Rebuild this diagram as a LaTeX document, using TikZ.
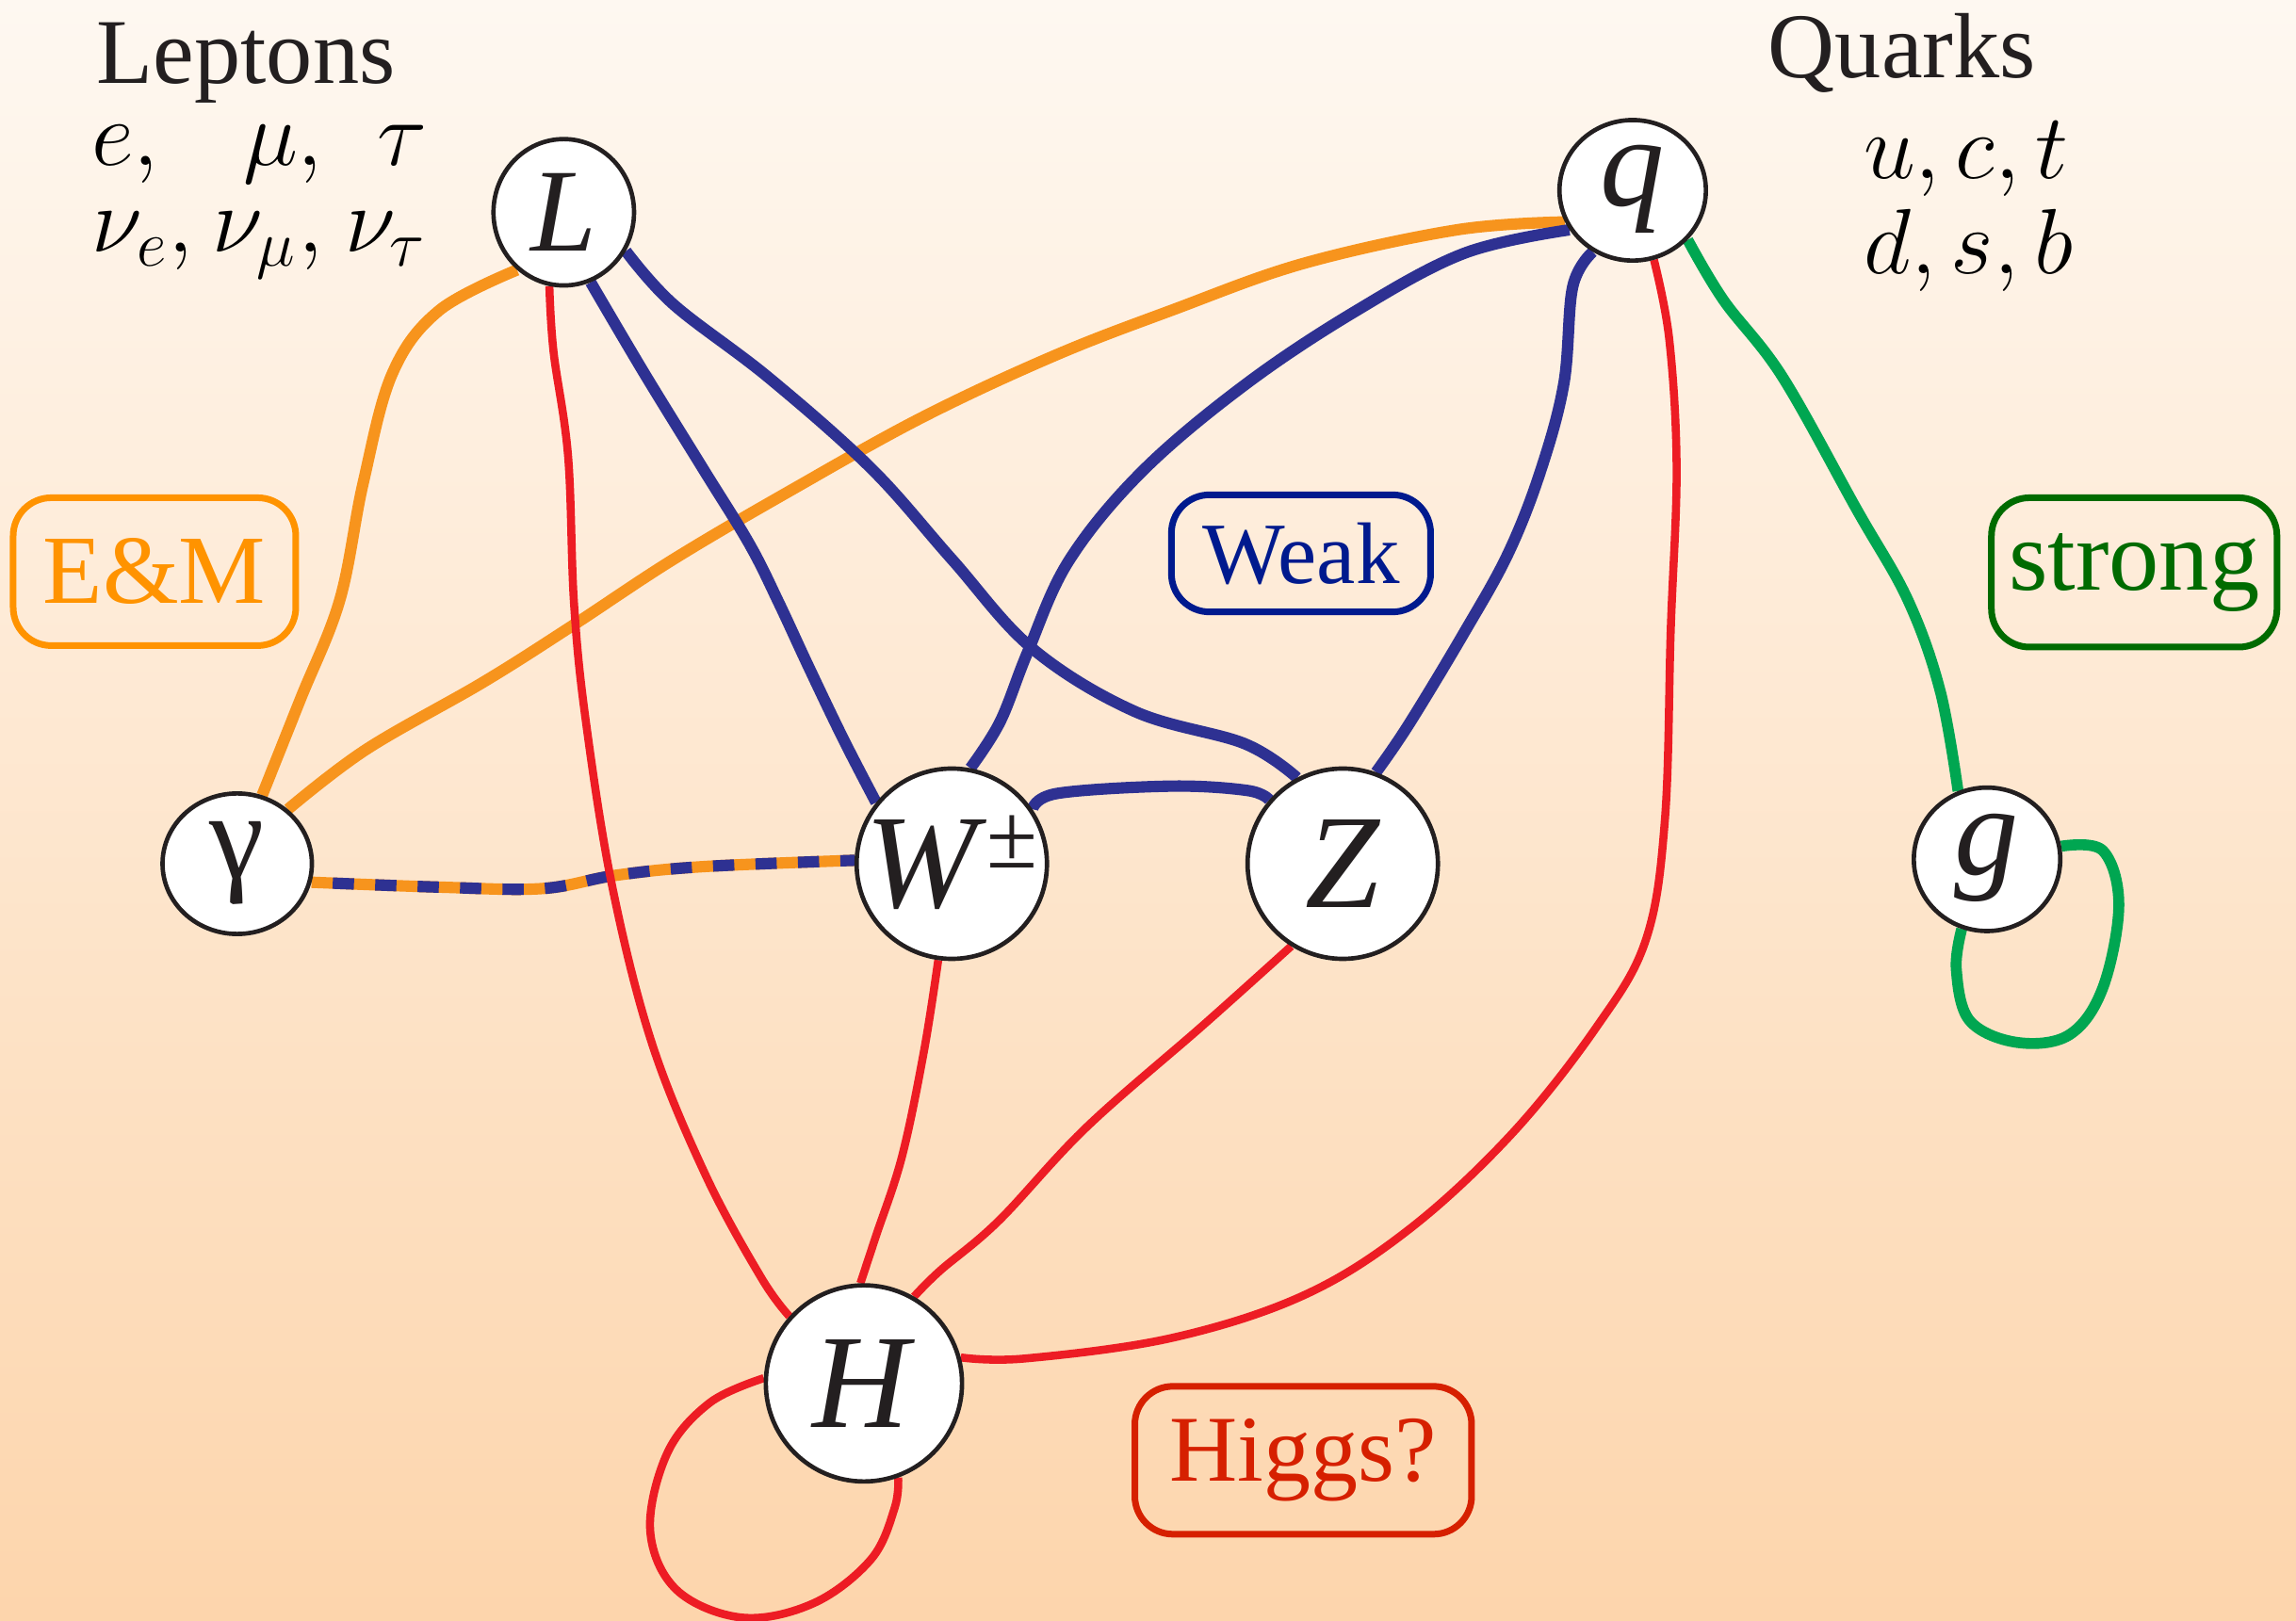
\RequirePackage{fix-cm}
\documentclass[tikz,border=0pt]{standalone}
\usepackage{fontspec}
\setmainfont{Liberation Serif}
\usetikzlibrary{shapes.geometric}
\pgfdeclarelayer{bgl}
\pgfdeclarelayer{edges}
\pgfsetlayers{bgl,edges,main}
\definecolor{bgtop}{HTML}{FEF8F1}
\definecolor{bgbot}{HTML}{FDD5AC}
\definecolor{emc}{HTML}{F7941D}
\definecolor{wkc}{HTML}{2E3192}
\definecolor{hc}{HTML}{ED1C24}
\definecolor{sgc}{HTML}{00A651}
\definecolor{emt}{HTML}{FF9300}
\definecolor{wkt}{HTML}{001A8E}
\definecolor{sgt}{HTML}{006B00}
\definecolor{ht}{HTML}{D62000}
\definecolor{ink}{HTML}{231F20}
\newcommand\ctrtext[2][.33em]{\smash{\makebox[0pt]{\raisebox{-#1}{#2}}}}
\newcommand\fsz[1]{\fontsize{#1}{#1}\selectfont}
\begin{document}
\begin{tikzpicture}[x=0.1mm,y=-0.1mm,
  ptcl/.style={ellipse, draw=ink, line width=0.3mm, fill=white, inner sep=0pt, text=ink},
  grp/.style={rectangle, rounded corners=2.6mm, line width=0.45mm, draw=#1, text=#1, inner sep=0pt},
  em/.style={draw=emc, line width=0.78mm},
  wk/.style={draw=wkc, line width=0.78mm},
  hg/.style={draw=hc, line width=0.55mm},
  sg/.style={draw=sgc, line width=0.75mm},
  crv/.style={smooth, tension=0.6}
]
\useasboundingbox (0,0) rectangle (1568,1107);
\begin{pgfonlayer}{bgl}
\shade[top color=bgtop, bottom color=bgbot] (0,0) rectangle (1568,1107);
\end{pgfonlayer}

% particle nodes
\node[ptcl, minimum width=9.6mm, minimum height=10mm, font=\fsz{23pt}] (L) at (385,145) {\ctrtext{\textit{L}}};
\node[ptcl, minimum width=10mm, minimum height=9.6mm, font=\fsz{25pt}] (q) at (1115,130) {\ctrtext[.12em]{\textit{q}}};
\node[ptcl, minimum width=10.2mm, minimum height=9.6mm, font=\fsz{24pt}] (gam) at (162,590) {\ctrtext[.12em]{γ}};
\node[ptcl, minimum width=13mm, minimum height=13mm, font=\fsz{26pt}] (W) at (650,590) {\ctrtext{\textit{W}\raisebox{.3em}{\fsz{18pt}±}}};
\node[ptcl, minimum width=13mm, minimum height=13mm, font=\fsz{26pt}] (Z) at (917,590) {\ctrtext{\textit{Z}}};
\node[ptcl, minimum width=10mm, minimum height=9.8mm, font=\fsz{25pt}] (g) at (1357,587) {\ctrtext[.12em]{\textit{g}}};
\node[ptcl, minimum width=13.4mm, minimum height=13.4mm, font=\fsz{26pt}] (H) at (590,945) {\ctrtext{\textit{H}}};

% group labels
\node[grp=emt, minimum width=19.3mm, minimum height=10.1mm, font=\fsz{19pt}] (EM) at (105.5,390.5) {E\&M};
\node[grp=wkt, minimum width=17.7mm, minimum height=8mm, font=\fsz{17pt}] (weak) at (888.5,378) {Weak};
\node[grp=sgt, minimum width=19.5mm, minimum height=10.2mm, font=\fsz{19.5pt}] (strong) at (1457.5,391) {strong};
\node[grp=ht, minimum width=23mm, minimum height=10.1mm, font=\fsz{18.3pt}] (higgs) at (890,997.5) {Higgs?};

% headings
\node[anchor=base, font=\fsz{18pt}, text=ink, inner sep=0pt] (lep) at (168,57) {Leptons};
\node[anchor=base, font=\fsz{18pt}, text=ink, inner sep=0pt] (qrk) at (1299,53) {Quarks};
\node[anchor=base west, font=\fsz{18pt}, inner sep=0pt] (lrow1) at (62,113) {$e,\hspace{4.7mm}\mu,\hspace{2.7mm}\tau$};
\node[anchor=base west, font=\fsz{18pt}, inner sep=0pt] (lrow2) at (62,172) {$\nu_e,\hspace{0.2mm} \nu_\mu,\hspace{0.45mm} \nu_\tau$};
\node[anchor=base west, font=\fsz{18pt}, inner sep=0pt] (qrow1) at (1272,122) {$u, c, t$};
\node[anchor=base west, font=\fsz{18pt}, inner sep=0pt] (qrow2) at (1272,187) {$d, s, b$};

\begin{pgfonlayer}{edges}
% E&M (orange)
\draw[em] plot[crv] coordinates {(L.231) (300,212) (268,255) (248,330) (232,410) (205,478) (gam.70)};
\draw[em] plot[crv] coordinates {(q.205) (995,157) (890,180) (800,212) (720,243) (630,285) (540,335) (460,382) (390,428) (330,466) (250,512) (gam.47)};
% photon - W dashed
\draw[em] plot[crv] coordinates {(gam.346) (300,606) (370,607) (420,598) (480,592) (W.178)};
\draw[wk, dash pattern=on 1.45mm off 1.45mm, dash phase=1.45mm] plot[crv] coordinates {(gam.346) (300,606) (370,607) (420,598) (480,592) (W.178)};
% weak (blue)
\draw[wk] plot[crv] coordinates {(L.291) (440,255) (480,320) (512,372) (532,412) (552,455) (576,505) (W.141)};
\draw[wk] plot[crv] coordinates {(L.328) (460,208) (525,258) (595,320) (650,382) (705,443) (775,486) (850,508) (Z.118)};
\draw[wk] plot[crv] coordinates {(q.212) (1000,173) (925,213) (850,263) (780,322) (730,383) (702,445) (683,493) (W.79)};
\draw[wk] plot[crv] coordinates {(q.237) (1074,196) (1068,262) (1052,322) (1030,378) (1000,432) (962,495) (Z.70)};
\draw[wk] plot[crv] coordinates {(W.34) (722,542) (800,537) (852,540) (Z.139)};
% strong (green)
\draw[sg] plot[crv] coordinates {(q.318) (1177,205) (1217,257) (1268,348) (1303,410) (1325,472) (g.113)};
\draw[sg] plot[crv] coordinates {(g.10) (1436,581) (1447,618) (1436,675) (1413,707) (1377,712) (1345,697) (1336,662) (g.250)};
% Higgs (red)
\draw[hg] plot[crv] coordinates {(L.259) (378,240) (388,312) (392,412) (400,492) (418,605) (445,712) (482,803) (520,873) (H.138)};
\draw[hg] plot[crv] coordinates {(W.262) (631,718) (616,790) (598,845) (H.92)};
\draw[hg] plot[crv] coordinates {(Z.238) (822,700) (742,770) (682,834) (642,868) (H.60)};
\draw[hg] plot[crv] coordinates {(q.287) (1140,232) (1145,320) (1141,430) (1137,560) (1124,642) (1090,702) (1032,775) (962,840) (890,885) (800,914) (700,928) (H.15)};
\draw[hg] plot[crv] coordinates {(H.177) (485,958) (456,992) (444,1045) (462,1086) (507,1105) (556,1095) (595,1065) (611,1030) (H.290)};
\end{pgfonlayer}
\end{tikzpicture}
\end{document}
